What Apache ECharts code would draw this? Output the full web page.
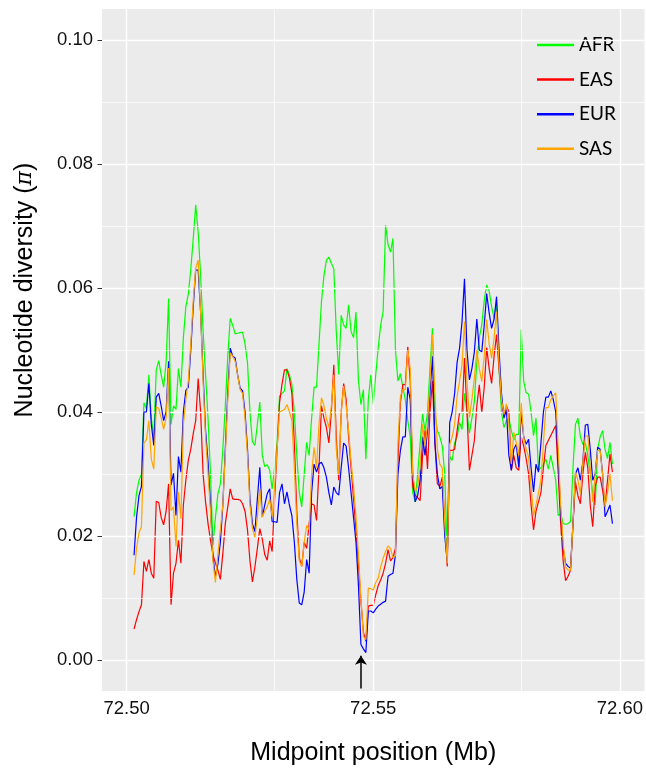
<!DOCTYPE html>
<html><head><meta charset="utf-8">
<script src="https://cdn.jsdelivr.net/npm/echarts@6/dist/echarts.min.js"></script>
<style>html,body{margin:0;padding:0;background:#fff}#c{width:646px;height:771px}</style>
</head><body><div id="c"></div>
<script>
// Sliding-window midpoints (Mb): first window midpoint and step between windows
const windowStartMb = 72.5015;
const windowStepMb = 0.0005;
const populations = ['AFR', 'EAS', 'EUR', 'SAS'];
const popColors = ['#00FF00', '#FF0000', '#0000FF', '#FFA500'];

const afr = [
0.0231,0.027,0.029,0.030,0.0415,0.0405,0.046,0.039,0.036,0.0468,
0.0483,0.046,0.044,0.048,0.0583,0.038,0.041,0.0404,0.047,0.044,
0.052,0.057,0.059,0.063,0.068,0.0734,0.069,0.062,0.053,0.046,
0.039,0.030,0.0185,0.023,0.0268,0.0284,0.034,0.041,0.049,0.0551,
0.054,0.0526,0.0527,0.0528,0.0529,0.051,0.048,0.040,0.0352,0.0346,
0.038,0.0416,0.033,0.0312,0.0315,0.0306,0.0276,0.031,0.035,0.0426,
0.043,0.0434,0.047,0.046,0.0444,0.040,0.033,0.027,0.0247,0.030,
0.0351,0.033,0.039,0.044,0.044,0.051,0.0578,0.062,0.0645,0.065,
0.064,0.0631,0.053,0.046,0.0556,0.054,0.0535,0.0573,0.053,0.052,
0.0561,0.045,0.0412,0.0436,0.0324,0.042,0.046,0.0412,0.046,0.0503,
0.054,0.0562,0.0701,0.067,0.0658,0.068,0.050,0.045,0.0462,0.044,
0.042,0.0386,0.036,0.027,0.0255,0.030,0.035,0.0397,0.037,0.040,
0.047,0.0535,0.040,0.037,0.036,0.0345,0.030,0.0167,0.0328,0.0322,
0.035,0.036,0.0383,0.0372,0.043,0.040,0.0366,0.039,0.0417,0.048,
0.052,0.054,0.058,0.0605,0.0595,0.057,0.0551,0.0575,0.047,0.040,
0.0375,0.0386,0.039,0.037,0.0355,0.0364,0.0364,0.0533,0.045,0.0431,
0.0429,0.040,0.0362,0.039,0.0307,0.031,0.0315,0.0324,0.0308,0.033,
0.031,0.029,0.0233,0.0236,0.022,0.0219,0.022,0.0223,0.031,0.038,
0.039,0.036,0.0348,0.035,0.033,0.030,0.027,0.025,0.034,0.036,
0.037,0.034,0.0325,0.0351,0.0316];

const eas = [
0.0050,0.0065,0.0078,0.0089,0.0159,0.0143,0.0162,0.0140,0.0132,0.0256,
0.0254,0.023,0.0218,0.024,0.0284,0.0089,0.014,0.0156,0.0193,0.0156,
0.025,0.029,0.0322,0.034,0.0365,0.0386,0.0454,0.040,0.030,0.0255,
0.022,0.0193,0.017,0.0156,0.0145,0.013,0.0172,0.022,0.0247,0.0276,
0.026,0.0259,0.0259,0.0258,0.0252,0.024,0.021,0.016,0.0126,0.015,
0.018,0.0212,0.0195,0.017,0.0161,0.0192,0.0175,0.026,0.034,0.0415,
0.0445,0.0468,0.0468,0.0455,0.043,0.035,0.024,0.0165,0.0151,0.019,
0.018,0.022,0.0252,0.025,0.0225,0.031,0.041,0.039,0.0375,0.035,
0.040,0.0476,0.036,0.029,0.040,0.0446,0.042,0.036,0.031,0.026,
0.021,0.0155,0.0095,0.0045,0.003,0.0087,0.0088,0.0088,0.0105,0.012,
0.0129,0.014,0.0156,0.0178,0.016,0.0165,0.018,0.032,0.0415,0.0444,
0.0444,0.0505,0.045,0.028,0.0266,0.0262,0.0257,0.033,0.037,0.0308,
0.040,0.045,0.035,0.0284,0.028,0.0295,0.022,0.0151,0.0338,0.0338,
0.034,0.037,0.0399,0.0399,0.0487,0.040,0.0306,0.033,0.0354,0.041,
0.0444,0.0399,0.044,0.0504,0.047,0.0446,0.049,0.0525,0.047,0.042,
0.0393,0.041,0.040,0.0306,0.033,0.031,0.0306,0.036,0.0345,0.0325,
0.030,0.025,0.021,0.024,0.0255,0.027,0.031,0.0346,0.0354,0.0362,
0.037,0.0378,0.030,0.022,0.016,0.0128,0.0135,0.0145,0.022,0.0287,
0.0265,0.0252,0.030,0.0335,0.031,0.025,0.0215,0.028,0.0295,0.0295,
0.0274,0.0247,0.029,0.0332,0.0303];

const eur = [
0.0169,0.023,0.0265,0.028,0.040,0.040,0.0446,0.038,0.0346,0.0424,
0.043,0.041,0.0386,0.040,0.0482,0.0282,0.0301,0.0233,0.0328,0.0303,
0.040,0.0435,0.044,0.050,0.057,0.0629,0.0629,0.056,0.046,0.037,
0.032,0.025,0.0165,0.0135,0.0155,0.019,0.025,0.034,0.043,0.0503,
0.049,0.0487,0.046,0.0439,0.0434,0.040,0.034,0.026,0.022,0.0207,
0.026,0.0311,0.0231,0.025,0.0268,0.0276,0.0223,0.0223,0.0222,0.027,
0.0284,0.0252,0.0271,0.025,0.0233,0.019,0.013,0.0092,0.0089,0.011,
0.0162,0.014,0.027,0.0316,0.0303,0.0316,0.0319,0.031,0.0295,0.027,
0.025,0.0279,0.027,0.0266,0.031,0.035,0.0345,0.031,0.027,0.023,
0.019,0.012,0.0025,0.0018,0.0012,0.0079,0.0079,0.0076,0.0082,0.0087,
0.009,0.0093,0.0095,0.0135,0.0138,0.014,0.017,0.030,0.0338,0.036,
0.036,0.044,0.042,0.030,0.0255,0.0265,0.029,0.036,0.033,0.037,
0.043,0.049,0.035,0.030,0.0276,0.028,0.020,0.016,0.0383,0.040,
0.043,0.048,0.0503,0.0546,0.0615,0.050,0.0452,0.047,0.0497,0.055,
0.050,0.0497,0.054,0.0591,0.056,0.0535,0.055,0.0586,0.050,0.043,
0.039,0.0404,0.033,0.0306,0.034,0.0348,0.0311,0.040,0.036,0.0348,
0.0356,0.031,0.0271,0.0316,0.0303,0.035,0.040,0.0424,0.0424,0.0434,
0.042,0.040,0.032,0.024,0.018,0.0156,0.0151,0.0148,0.022,0.030,
0.031,0.029,0.032,0.0379,0.038,0.034,0.029,0.030,0.0343,0.034,
0.030,0.0231,0.024,0.025,0.022];

const sas = [
0.0137,0.018,0.0205,0.0215,0.035,0.0355,0.0386,0.0324,0.0308,0.0408,
0.0406,0.039,0.0372,0.039,0.0471,0.0241,0.0247,0.0183,0.0271,0.0228,
0.038,0.042,0.045,0.051,0.058,0.0632,0.0645,0.056,0.045,0.036,
0.030,0.024,0.016,0.0125,0.017,0.021,0.025,0.033,0.042,0.0495,
0.049,0.0482,0.046,0.0436,0.043,0.039,0.033,0.025,0.0212,0.0198,
0.023,0.0276,0.023,0.024,0.0247,0.026,0.0231,0.028,0.034,0.040,
0.0402,0.0404,0.0412,0.040,0.0386,0.031,0.022,0.016,0.0151,0.019,
0.0217,0.021,0.030,0.0343,0.031,0.038,0.0423,0.041,0.039,0.0375,
0.041,0.046,0.034,0.030,0.040,0.0442,0.041,0.037,0.032,0.028,
0.023,0.017,0.010,0.0038,0.0033,0.0116,0.0115,0.0113,0.0125,0.0132,
0.015,0.0164,0.0175,0.0184,0.018,0.0165,0.0168,0.035,0.0425,0.0436,
0.0436,0.050,0.047,0.030,0.0272,0.028,0.031,0.038,0.0345,0.038,
0.045,0.0525,0.043,0.034,0.0316,0.031,0.022,0.0156,0.0348,0.036,
0.038,0.0425,0.045,0.0476,0.0546,0.045,0.0391,0.042,0.0455,0.050,
0.047,0.0449,0.049,0.0549,0.051,0.0487,0.052,0.0562,0.048,0.042,
0.0396,0.0413,0.038,0.0316,0.0367,0.035,0.033,0.0415,0.036,0.034,
0.0327,0.028,0.0233,0.025,0.027,0.029,0.035,0.0407,0.0407,0.042,
0.0426,0.0431,0.034,0.025,0.019,0.015,0.0145,0.0145,0.022,0.0303,
0.029,0.0268,0.032,0.036,0.0362,0.031,0.0255,0.030,0.0338,0.0338,
0.030,0.0247,0.027,0.030,0.0257];

const xTicks = [72.50, 72.55, 72.60];
const xMinorGrid = [72.525, 72.575];
const yTicks = [0.00, 0.02, 0.04, 0.06, 0.08, 0.10];
const yMinorGrid = [0.01, 0.03, 0.05, 0.07, 0.09];
const xRange = [72.495, 72.605];
const yRange = [-0.005, 0.105];
// annotation arrow (data coordinates)
const arrowX = 72.5475;
const arrowFromY = -0.0046;
const arrowToY = 0.0007;

const seriesValues = [afr, eas, eur, sas];
const midpoints = afr.map((_, i) => +(windowStartMb + i * windowStepMb).toFixed(4));

const gridLines = [];
yTicks.forEach(v => gridLines.push({ yAxis: v, lineStyle: { color: '#FFFFFF', width: 1.4, type: 'solid' } }));
yMinorGrid.forEach(v => gridLines.push({ yAxis: v, lineStyle: { color: '#FFFFFF', width: 0.7, type: 'solid' } }));
xTicks.forEach(v => gridLines.push({ xAxis: v, lineStyle: { color: '#FFFFFF', width: 1.4, type: 'solid' } }));
xMinorGrid.forEach(v => gridLines.push({ xAxis: v, lineStyle: { color: '#FFFFFF', width: 0.7, type: 'solid' } }));

const series = [{
  name: '_grid', type: 'line', data: [], z: 1, silent: true,
  markLine: { silent: true, symbol: ['none', 'none'], label: { show: false }, animation: false, data: gridLines }
}];
populations.forEach((p, k) => {
  series.push({
    name: p, type: 'line', z: 3 + k,
    data: midpoints.map((x, i) => [x, seriesValues[k][i]]),
    showSymbol: false, symbol: 'none',
    lineStyle: { color: popColors[k], width: 1.2 },
    itemStyle: { color: popColors[k] },
    emphasis: { disabled: true }
  });
});
series.push({
  name: '_arrow', type: 'line', data: [], z: 10, silent: true,
  markLine: {
    silent: true, animation: false, symbol: ['none', 'arrow'], symbolSize: 9,
    label: { show: false },
    lineStyle: { color: '#000', width: 1.5, type: 'solid' },
    data: [[{ coord: [arrowX, arrowFromY] }, { coord: [arrowX, arrowToY] }]]
  }
});

const chart = echarts.init(document.getElementById('c'), null, { renderer: 'canvas' });
chart.setOption({
  animation: false,
  backgroundColor: '#FFFFFF',
  grid: { left: 102, right: 1, top: 9, bottom: 76, show: true, backgroundColor: '#EBEBEB', borderWidth: 0, containLabel: false },
  legend: {
    data: populations, orient: 'vertical', left: 537, top: 35, padding: 0,
    icon: 'rect', itemWidth: 37, itemHeight: 2.5, itemGap: 14.6,
    textStyle: { fontFamily: 'Lato', fontSize: 19, color: '#000', lineHeight: 20 }
  },
  xAxis: {
    type: 'value', min: xRange[0], max: xRange[1],
    name: 'Midpoint position (Mb)', nameLocation: 'middle', nameGap: 50,
    nameTextStyle: { fontFamily: 'Liberation Sans', fontSize: 25, color: '#000' },
    axisLine: { show: false },
    axisTick: { show: true, customValues: xTicks, length: 4.5, lineStyle: { color: '#333', width: 1 } },
    axisLabel: { customValues: xTicks, margin: 8, fontFamily: 'Liberation Sans', fontSize: 18.5, color: '#111',
      formatter: v => v.toFixed(2) },
    splitLine: { show: false }
  },
  yAxis: {
    type: 'value', min: yRange[0], max: yRange[1],
    name: 'Nucleotide diversity ({i|π})', nameLocation: 'middle', nameGap: 64,
    nameTextStyle: { fontFamily: 'Liberation Sans', fontSize: 25, color: '#000', padding: [0, 0, 0, 120],
      rich: { i: { fontFamily: 'DejaVu Serif', fontStyle: 'italic', fontSize: 22, color: '#000' } } },
    axisLine: { show: false },
    axisTick: { show: true, customValues: yTicks, length: 4.5, lineStyle: { color: '#333', width: 1 } },
    axisLabel: { customValues: yTicks, margin: 9, fontFamily: 'Liberation Sans', fontSize: 18.5, color: '#111',
      formatter: v => v.toFixed(2) },
    splitLine: { show: false }
  },
  series: series
});
</script>
</body></html>
